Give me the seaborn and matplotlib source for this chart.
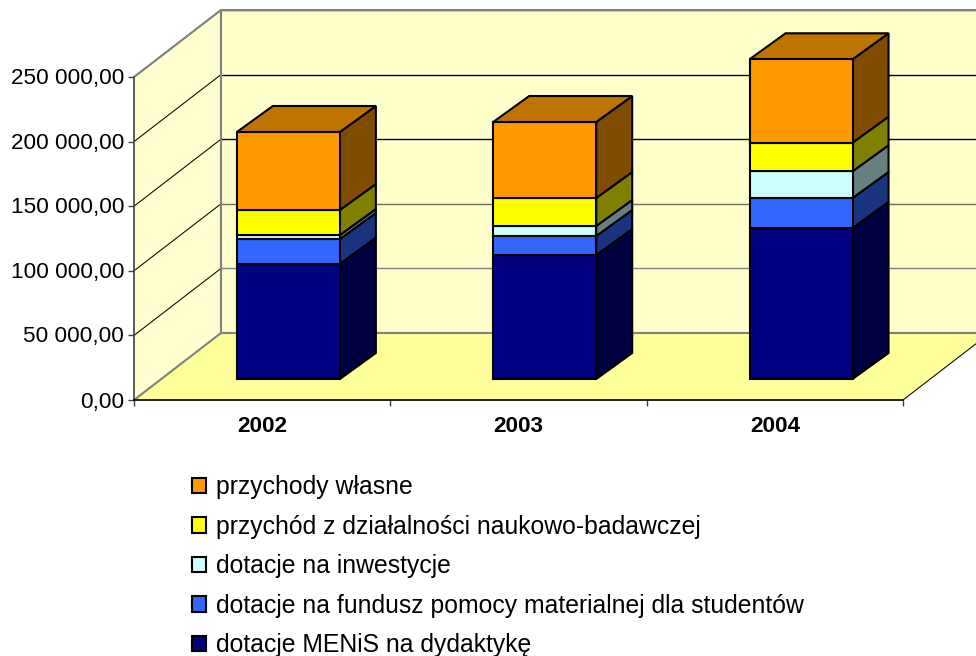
# Stacked bars with a hand-made 3D look (old Excel style chart)
import numpy as np
import pandas as pd
import matplotlib
matplotlib.use('Agg')
import matplotlib.pyplot as plt
from matplotlib.patches import Polygon
from matplotlib.transforms import ScaledTranslation
import seaborn as sns

# Data
years = ['2002', '2003', '2004']
menis = [89240, 95980, 116870]
fundusz = [19120, 14700, 23220]
inwestycje = [3100, 7740, 20670]
naukowe = [19350, 21670, 22140]
wlasne = [60370, 58820, 64550]

labels = ['dotacje MENiS na dydaktykę',
          'dotacje na fundusz pomocy materialnej dla studentów',
          'dotacje na inwestycje',
          'przychód z działalności naukowo-badawczej',
          'przychody własne']
front_colors = ['#000080', '#3366FF', '#CCFFFF', '#FFFF00', '#FF9900']
side_colors = ['#000040', '#1A3380', '#668080', '#808000', '#804C00']
top_color = '#BF7300'

y_ticks = [0, 50000, 100000, 150000, 200000, 250000]
y_labels = ['0,00', '50 000,00', '100 000,00', '150 000,00', '200 000,00', '250 000,00']
back_grid_colors = ['#808080', '#70705A', 'black', 'black', 'black']

sns.set_theme(style='white')
plt.rcParams['font.family'] = ['Liberation Sans', 'DejaVu Sans']

W, H = 976, 656
fig = plt.figure(figsize=(W / 100, H / 100), dpi=100)
ax = fig.add_axes([134 / W, (H - 400) / H, 769 / W, 323 / H])

# Sizes of the fake depth, in data units
per_px_x = 3 / 769
per_px_y = 250000 / 323
wall_dx, wall_dy = 87 * per_px_x, 67 * per_px_y
bar_dx, bar_dy = 36 * per_px_x, 26 * per_px_y
lift_x, lift_y = 26.2 * per_px_x, 21 * per_px_y
bar_width = 103 * per_px_x

df = pd.DataFrame({'year': years})
series = [menis, fundusz, inwestycje, naukowe, wlasne]

# Stacked bars, shifted into the middle of the floor
bottom = np.full(len(years), lift_y)
containers = []
for vals, lab, col in zip(series, labels, front_colors):
    sns.barplot(data=df, x='year', y=vals, bottom=bottom, width=bar_width, color=col,
                saturation=1, edgecolor='black', linewidth=1.5, label=lab,
                ax=ax, zorder=5, clip_on=False)
    containers.append(ax.containers[-1])
    bottom = bottom + np.array(vals)

ax.set_xlim(-0.5, 2.5)
ax.set_ylim(0, 250000)

# Walls and floor
x0, x1 = -0.5, 2.5
y_top = 250000
left_wall = [(x0, 0), (x0, y_top), (x0 + wall_dx, y_top + wall_dy), (x0 + wall_dx, wall_dy)]
back_wall = [(x0 + wall_dx, wall_dy), (x0 + wall_dx, y_top + wall_dy),
             (x1 + wall_dx, y_top + wall_dy), (x1 + wall_dx, wall_dy)]
floor = [(x0, 0), (x1, 0), (x1 + wall_dx, wall_dy), (x0 + wall_dx, wall_dy)]
ax.add_patch(Polygon(left_wall, facecolor='#FFFFD0', edgecolor='none', clip_on=False, zorder=1))
ax.add_patch(Polygon(back_wall, facecolor='#FFFFCC', edgecolor='none', clip_on=False, zorder=1))
ax.add_patch(Polygon(floor, facecolor='#FFFF99', edgecolor='none', clip_on=False, zorder=1.5))

# Gridlines on the walls
for t, c in zip(y_ticks[1:], back_grid_colors):
    ax.plot([x0, x0 + wall_dx], [t, t + wall_dy], color='black', lw=0.75, clip_on=False, zorder=2)
    ax.plot([x0 + wall_dx, x1 + wall_dx], [t + wall_dy, t + wall_dy], color=c,
            lw=1.0, clip_on=False, zorder=2)

# Grey frame of the walls, black edge on the right of the floor
frame = [(x0, 0), (x0 + wall_dx, wall_dy), (x1 + wall_dx, wall_dy)]
ax.plot(*zip(*frame), color='#808080', lw=1.5, clip_on=False, zorder=2.5)
frame = [(x0 + wall_dx, wall_dy), (x0 + wall_dx, y_top + wall_dy), (x1 + wall_dx, y_top + wall_dy)]
ax.plot(*zip(*frame), color='#808080', lw=1.5, clip_on=False, zorder=2.5)
ax.plot([x0, x0 + wall_dx], [y_top, y_top + wall_dy], color='#808080', lw=1.5, clip_on=False, zorder=2.5)
ax.plot([x1, x1 + wall_dx], [0, wall_dy], color='black', lw=0.75, clip_on=False, zorder=2)

# Depth of every segment: right side and the top of the stack
for i, cont in enumerate(containers):
    for bar in cont.patches:
        bar.set_x(bar.get_x() + lift_x)
        r = bar.get_x() + bar.get_width()
        b = bar.get_y()
        t = b + bar.get_height()
        side = [(r, b), (r, t), (r + bar_dx, t + bar_dy), (r + bar_dx, b + bar_dy)]
        ax.add_patch(Polygon(side, facecolor=side_colors[i], edgecolor='black', lw=1.5,
                             clip_on=False, zorder=4))
        if i == len(containers) - 1:
            l = bar.get_x()
            top = [(l, t), (r, t), (r + bar_dx, t + bar_dy), (l + bar_dx, t + bar_dy)]
            ax.add_patch(Polygon(top, facecolor=top_color, edgecolor='black', lw=1.5,
                                 clip_on=False, zorder=4))

# Axes
sns.despine(ax=ax, top=True, right=True)
ax.spines['left'].set_color('#404040')
ax.spines['left'].set_linewidth(1.2)
ax.spines['bottom'].set_color('black')
ax.spines['bottom'].set_linewidth(1.2)
for s in ax.spines.values():
    s.set_zorder(3)
ax.set_yticks(y_ticks)
ax.set_yticklabels(y_labels, fontsize=16.2, color='black')
ax.tick_params(axis='y', left=True, length=4.5, width=1, color='#404040', pad=2.5)
up_1px = ScaledTranslation(0, 1 / 100, fig.dpi_scale_trans)
for lab in ax.get_yticklabels()[1:]:
    lab.set_transform(lab.get_transform() + up_1px)
ax.set_xticks([0, 1, 2])
ax.set_xticklabels(years, fontsize=16.2, fontweight='bold', color='black')
ax.tick_params(axis='x', bottom=False, pad=5.5)
ax.set_xticks([x0, x0 + 1, x0 + 2, x1], minor=True)
ax.tick_params(axis='x', which='minor', bottom=True, length=4.5, width=1, color='#404040')
ax.set_xlabel('')
ax.set_ylabel('')
ax.patch.set_visible(False)

# Legend in reverse stack order
handles = [c.patches[0] for c in containers][::-1]
leg = ax.legend(handles, labels[::-1], frameon=False, fontsize=17.8,
                loc='upper left', bbox_to_anchor=(192 / W, (H - 475) / H),
                bbox_transform=fig.transFigure, borderpad=0, borderaxespad=0,
                handlelength=0.58, handleheight=0.58, handletextpad=0.39,
                labelspacing=0.63)
for txt in leg.get_texts():
    txt.set_color('black')

fig.savefig('out.png', dpi=100)
